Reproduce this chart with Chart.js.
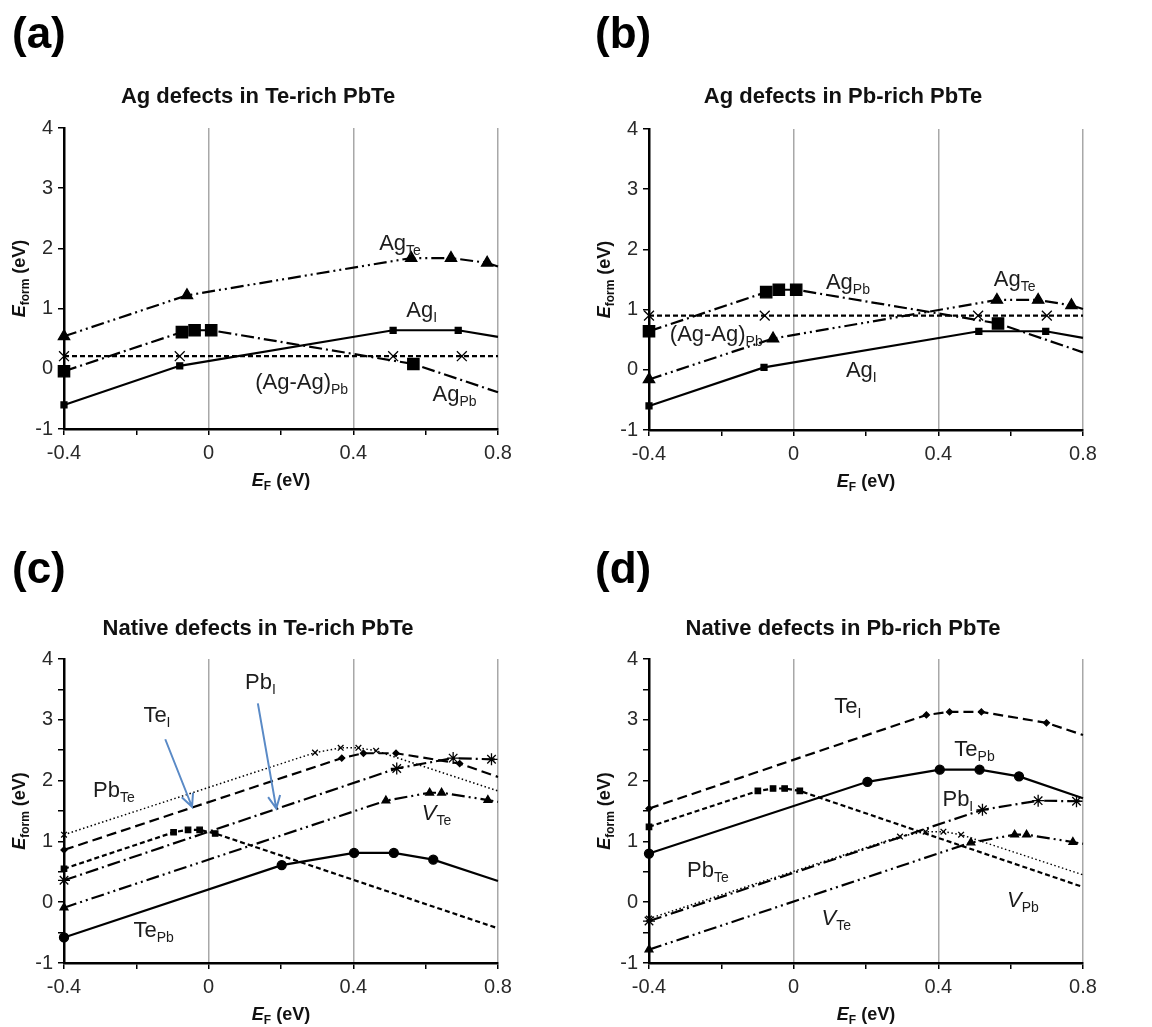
<!DOCTYPE html>
<html>
<head>
<meta charset="utf-8">
<script src="https://cdn.jsdelivr.net/npm/chart.js@4.4.1/dist/chart.umd.min.js"></script>
<style>
  body { margin: 0; background: #fff; width: 1152px; height: 1027px; position: relative; overflow: hidden; }
  canvas { position: absolute; }
</style>
</head>
<body>
<canvas id="ca" width="576" height="510" style="left:0;top:0"></canvas>
<canvas id="cb" width="576" height="510" style="left:576px;top:0"></canvas>
<canvas id="cc" width="576" height="517" style="left:0;top:510px"></canvas>
<canvas id="cd" width="576" height="517" style="left:576px;top:510px"></canvas>
<script>
const xTickLabels = ['-0.4', '0', '0.4', '0.8']
const yTickLabels = ['-1', '0', '1', '2', '3', '4']

// (a) Ag defects in Te-rich PbTe   [E_F, E_form]
const aAgTe = [[-0.4, 0.54], [-0.06, 1.22], [0.56, 1.84], [0.67, 1.84], [0.77, 1.76], [0.8, 1.70]]
const aAgI = [[-0.4, -0.6], [-0.08, 0.05], [0.51, 0.64], [0.69, 0.64], [0.8, 0.53]]
const aAgPb = [[-0.4, -0.04], [-0.074, 0.61], [-0.039, 0.64], [0.007, 0.64], [0.566, 0.08], [0.8, -0.39]]
const aAgAg = [[-0.4, 0.21], [-0.08, 0.21], [0.51, 0.21], [0.7, 0.21], [0.8, 0.21]]

// (b) Ag defects in Pb-rich PbTe
const bAgTe = [[-0.4, -0.16], [-0.057, 0.52], [0.562, 1.16], [0.676, 1.16], [0.768, 1.07], [0.8, 1.01]]
const bAgI = [[-0.4, -0.6], [-0.082, 0.04], [0.512, 0.64], [0.697, 0.64], [0.8, 0.53]]
const bAgPb = [[-0.4, 0.64], [-0.076, 1.29], [-0.041, 1.33], [0.007, 1.33], [0.565, 0.77], [0.8, 0.29]]
const bAgAg = [[-0.4, 0.9], [-0.08, 0.9], [0.51, 0.9], [0.7, 0.9], [0.8, 0.9]]

// (c) Native defects in Te-rich PbTe
const cTePb = [[-0.4, -0.58], [0.202, 0.61], [0.402, 0.81], [0.512, 0.81], [0.621, 0.70], [0.8, 0.35]]
const cVPb = [[-0.4, 0.55], [-0.097, 1.15], [-0.057, 1.19], [-0.025, 1.19], [0.018, 1.13], [0.8, -0.43]]
const cTeI = [[-0.4, 0.86], [0.368, 2.37], [0.428, 2.45], [0.518, 2.45], [0.694, 2.28], [0.8, 2.06]]
const cPbTe = [[-0.4, 1.11], [0.294, 2.46], [0.365, 2.54], [0.414, 2.54], [0.463, 2.49], [0.8, 1.83]]
const cPbI = [[-0.4, 0.36], [0.52, 2.20], [0.676, 2.37], [0.782, 2.35], [0.8, 2.35]]
const cVTe = [[-0.4, -0.09], [0.49, 1.67], [0.611, 1.80], [0.644, 1.80], [0.772, 1.68], [0.8, 1.65]]

// (d) Native defects in Pb-rich PbTe
const dTePb = [[-0.4, 0.80], [0.204, 1.98], [0.404, 2.18], [0.514, 2.18], [0.623, 2.07], [0.8, 1.71]]
const dTeI = [[-0.4, 1.54], [0.367, 3.08], [0.431, 3.13], [0.519, 3.13], [0.699, 2.95], [0.8, 2.75]]
const dVPb = [[-0.4, 1.24], [-0.099, 1.83], [-0.057, 1.87], [-0.025, 1.87], [0.017, 1.83], [0.8, 0.25]]
const dPbI = [[-0.4, -0.31], [0.522, 1.52], [0.676, 1.67], [0.782, 1.66], [0.8, 1.66]]
const dPbTe = [[-0.4, -0.27], [0.294, 1.08], [0.365, 1.16], [0.414, 1.16], [0.463, 1.11], [0.8, 0.45]]
const dVTe = [[-0.4, -0.78], [0.49, 0.98], [0.611, 1.11], [0.644, 1.11], [0.772, 0.99], [0.8, 0.96]]

// curve labels: [main, subscript, x, y, italic main]
const aLabels = [['Ag', 'Te', 0.529, 2.11], ['Ag', 'I', 0.589, 1.0], ['(Ag-Ag)', 'Pb', 0.257, -0.21], ['Ag', 'Pb', 0.68, -0.40]]
const bLabels = [['Ag', 'Pb', 0.15, 1.48], ['Ag', 'Te', 0.611, 1.52], ['(Ag-Ag)', 'Pb', -0.214, 0.61], ['Ag', 'I', 0.187, 0.02]]
const cLabels = [['Pb', 'Te', -0.262, 1.87], ['Te', 'I', -0.143, 3.10], ['Pb', 'I', 0.143, 3.63], ['V', 'Te', 0.63, 1.49, true], ['Te', 'Pb', -0.152, -0.44]]
const dLabels = [['Te', 'I', 0.15, 3.24], ['Te', 'Pb', 0.5, 2.53], ['Pb', 'I', 0.454, 1.71], ['Pb', 'Te', -0.237, 0.54], ['V', 'Te', 0.118, -0.24, true], ['V', 'Pb', 0.634, 0.06, true]]
const cArrows = [[[-0.12, 2.68], [-0.046, 1.57]], [[0.136, 3.27], [0.187, 1.54]]]

const SOLID = []
const SHORT = [5, 3]
const LONG = [10, 5]
const DASHDOT = [13, 4, 2, 4]
const DASHDOTDOT = [13, 4, 2, 4, 2, 4]
const DOT = [1.5, 2.5]
const FONT = "'Liberation Sans', Arial, sans-serif"

function series(data, dash, style, radius, width) {
  return {
    data: data.map(([x, y]) => ({ x, y })),
    borderColor: '#000',
    backgroundColor: '#000',
    pointBackgroundColor: '#000',
    pointBorderColor: '#000',
    borderWidth: width || 2.2,
    borderDash: dash,
    pointStyle: style,
    pointRadius: (ctx) => (ctx.raw && ctx.raw.x >= 0.8 ? 0 : radius),
    pointBorderWidth: 1.3,
    tension: 0,
    fill: false,
    clip: false,
  }
}

function richText(ctx, parts, cx, baseY) {
  let w = 0
  parts.forEach((p) => {
    ctx.font = `${p.italic ? 'italic ' : ''}${p.bold ? 'bold ' : ''}${p.size}px ${FONT}`
    p.w = ctx.measureText(p.t).width
    w += p.w
  })
  let x = cx - w / 2
  parts.forEach((p) => {
    ctx.font = `${p.italic ? 'italic ' : ''}${p.bold ? 'bold ' : ''}${p.size}px ${FONT}`
    ctx.fillText(p.t, x, baseY + (p.dy || 0))
    x += p.w
  })
}

function deco(cfg) {
  return {
    id: 'deco' + cfg.letter,
    afterDraw(chart) {
      const ctx = chart.ctx
      const xs = chart.scales.x
      const ys = chart.scales.y
      const area = chart.chartArea
      ctx.save()
      ctx.textAlign = 'left'
      ctx.textBaseline = 'alphabetic'
      ctx.fillStyle = '#000'
      ctx.font = `bold 44px ${FONT}`
      ctx.fillText(cfg.letter, cfg.letterX, cfg.letterY)
      ctx.font = `bold 22px ${FONT}`
      ctx.textAlign = 'center'
      ctx.fillStyle = '#111'
      ctx.fillText(cfg.title, (area.left + area.right) / 2 - 23, area.top - cfg.titleGap)
      ctx.textAlign = 'left'

      // axis titles
      ctx.fillStyle = '#111'
      richText(ctx, [
        { t: 'E', size: 18, bold: true, italic: true },
        { t: 'F', size: 12, bold: true, dy: 4 },
        { t: ' (eV)', size: 18, bold: true },
      ], (area.left + area.right) / 2, area.bottom + 57)
      ctx.save()
      ctx.translate(area.left - 46, (area.top + area.bottom) / 2)
      ctx.rotate(-Math.PI / 2)
      richText(ctx, [
        { t: 'E', size: 18, bold: true, italic: true },
        { t: 'form', size: 12, bold: true, dy: 4 },
        { t: ' (eV)', size: 18, bold: true },
      ], 0, 6.5)
      ctx.restore()

      // curve labels
      ctx.fillStyle = '#1c1c1c'
      cfg.labels.forEach(([main, sub, x, y, it]) => {
        richText(ctx, [
          { t: main, size: 22, italic: !!it },
          { t: sub, size: 14, dy: 5 },
        ], xs.getPixelForValue(x), ys.getPixelForValue(y) + 8)
      })

      // arrows
      ctx.strokeStyle = '#5a8ac6'
      ctx.lineWidth = 2
      ;(cfg.arrows || []).forEach(([p1, p2]) => {
        const x1 = xs.getPixelForValue(p1[0]), y1 = ys.getPixelForValue(p1[1])
        const x2 = xs.getPixelForValue(p2[0]), y2 = ys.getPixelForValue(p2[1])
        const a = Math.atan2(y2 - y1, x2 - x1)
        ctx.beginPath()
        ctx.moveTo(x1, y1)
        ctx.lineTo(x2, y2)
        ctx.moveTo(x2 - 14 * Math.cos(a - 0.45), y2 - 14 * Math.sin(a - 0.45))
        ctx.lineTo(x2, y2)
        ctx.lineTo(x2 - 14 * Math.cos(a + 0.45), y2 - 14 * Math.sin(a + 0.45))
        ctx.stroke()
      })
      ctx.restore()
    },
  }
}

function makeChart(id, cfg) {
  return new Chart(document.getElementById(id), {
    type: 'line',
    data: { datasets: cfg.datasets },
    options: {
      responsive: false,
      animation: false,
      layout: { padding: { top: cfg.top, right: cfg.right, left: 0, bottom: 0 } },
      plugins: { legend: { display: false }, tooltip: { enabled: false }, title: { display: false } },
      scales: {
        x: {
          type: 'linear',
          min: -0.4,
          max: 0.8,
          afterFit: (s) => { s.height = cfg.xHeight },
          ticks: {
            stepSize: 0.2,
            autoSkip: false,
            maxRotation: 0,
            padding: 6,
            color: '#2a2a2a',
            font: { family: FONT, size: 20 },
            callback: (v) => {
              const k = Math.round((v + 0.4) / 0.2)
              return k % 2 === 0 ? xTickLabels[k / 2] : ''
            },
          },
          grid: {
            color: (c) => {
              const k = Math.round(((c.tick ? c.tick.value : -0.4) + 0.4) / 0.2)
              return k > 0 && k % 2 === 0 ? '#a8a8a8' : 'rgba(0,0,0,0)'
            },
            lineWidth: 1.5,
            tickColor: '#000',
            tickLength: 6,
          },
          border: { display: true, color: '#000', width: 2.5 },
        },
        y: {
          min: -1,
          max: 4,
          afterFit: (s) => { s.width = cfg.yWidth },
          ticks: {
            stepSize: cfg.yStep,
            autoSkip: false,
            padding: 5,
            color: '#2a2a2a',
            font: { family: FONT, size: 20 },
            callback: (v) => {
              const k = Math.round(v * 2)
              return k % 2 === 0 ? yTickLabels[k / 2 + 1] : ''
            },
          },
          grid: { drawOnChartArea: false, tickColor: '#000', tickLength: 6, lineWidth: 1.5 },
          border: { display: true, color: '#000', width: 2.5 },
        },
      },
    },
    plugins: [deco(cfg)],
  })
}

makeChart('ca', {
  letter: '(a)', letterX: 12, letterY: 48, title: 'Ag defects in Te-rich PbTe', titleGap: 25,
  top: 128, right: 78, xHeight: 81, yWidth: 64, yStep: 1, labels: aLabels,
  datasets: [
    series(aAgI, SOLID, 'rect', 4.2),
    series(aAgPb, DASHDOT, 'rect', 8),
    series(aAgTe, DASHDOTDOT, 'triangle', 6.5),
    series(aAgAg, SHORT, 'crossRot', 7),
  ],
})

makeChart('cb', {
  letter: '(b)', letterX: 19, letterY: 48, title: 'Ag defects in Pb-rich PbTe', titleGap: 26,
  top: 129, right: 69, xHeight: 80, yWidth: 73, yStep: 1, labels: bLabels,
  datasets: [
    series(bAgI, SOLID, 'rect', 4.2),
    series(bAgPb, DASHDOT, 'rect', 8),
    series(bAgTe, DASHDOTDOT, 'triangle', 6.5),
    series(bAgAg, SHORT, 'crossRot', 7),
  ],
})

makeChart('cc', {
  letter: '(c)', letterX: 12, letterY: 73, title: 'Native defects in Te-rich PbTe', titleGap: 24,
  top: 149, right: 78, xHeight: 64, yWidth: 64, yStep: 0.5, labels: cLabels, arrows: cArrows,
  datasets: [
    series(cTePb, SOLID, 'circle', 4.5),
    series(cVPb, SHORT, 'rect', 3.8),
    series(cTeI, LONG, 'rectRot', 3),
    series(cPbTe, DOT, 'crossRot', 4, 1.5),
    series(cPbI, DASHDOT, 'star', 6),
    series(cVTe, DASHDOTDOT, 'triangle', 4.5),
  ],
})

makeChart('cd', {
  letter: '(d)', letterX: 19, letterY: 73, title: 'Native defects in Pb-rich PbTe', titleGap: 24,
  top: 149, right: 69, xHeight: 64, yWidth: 73, yStep: 0.5, labels: dLabels,
  datasets: [
    series(dTePb, SOLID, 'circle', 4.5),
    series(dTeI, LONG, 'rectRot', 3),
    series(dVPb, SHORT, 'rect', 3.8),
    series(dPbI, DASHDOT, 'star', 6),
    series(dPbTe, DOT, 'crossRot', 4, 1.5),
    series(dVTe, DASHDOTDOT, 'triangle', 4.5),
  ],
})
</script>
</body>
</html>
